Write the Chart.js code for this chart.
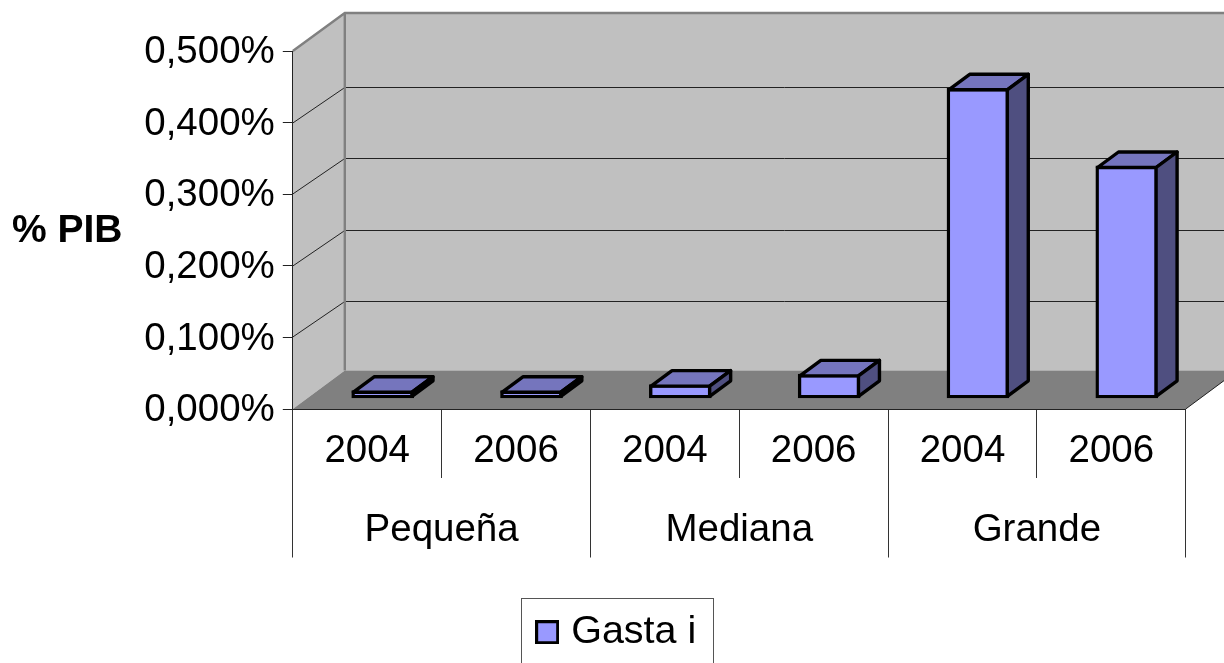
<!DOCTYPE html>
<html>
<head>
<meta charset="utf-8">
<style>html,body{margin:0;padding:0;background:#fff;overflow:hidden}canvas{display:block}</style>
<script src="https://cdn.jsdelivr.net/npm/chart.js@4/dist/chart.umd.min.js"></script>
</head>
<body>
<canvas id="c" width="1224" height="663"></canvas>
<script>
const years = ['2004','2006','2004','2006','2004','2006'];
const groups = ['Pequeña','Mediana','Grande'];
const values = [0.0112,0.0112,0.0196,0.034,0.4335,0.325];
const seriesName = 'Gasta i';
const axisTitle = '% PIB';

const FONT = '"Liberation Sans", Arial, sans-serif';
const WALL = {dx:52, topDy:38, gridDy:36.2, floorDy:38.5};
const BAR = {sx:15.5, sy:-10.5, dx:21, dy:15.5, lw:3.4};

// legend swatch: filled square with a heavy black border
const swatch = document.createElement('canvas');
swatch.width = 24; swatch.height = 24;
(function(){
  const g = swatch.getContext('2d');
  g.fillStyle = '#000'; g.fillRect(0,0,24,24);
  g.fillStyle = '#9999ff'; g.fillRect(3,3,18,18);
})();

const scene = {
  id:'scene',
  beforeDraw(chart){
    const {ctx, chartArea:a, scales:{y}} = chart;
    ctx.save();
    const W = chart.width + 60;
    const bx = a.left + WALL.dx, by = a.top - WALL.topDy, fy = a.bottom - WALL.floorDy;
    ctx.fillStyle = '#c0c0c0';
    ctx.fillRect(bx, by, W, fy - by);
    ctx.beginPath();
    ctx.moveTo(a.left, a.top); ctx.lineTo(bx, by); ctx.lineTo(bx, fy); ctx.lineTo(a.left, a.bottom); ctx.closePath(); ctx.fill();
    ctx.fillStyle = '#808080';
    ctx.beginPath();
    ctx.moveTo(a.left, a.bottom); ctx.lineTo(bx, fy); ctx.lineTo(a.right + WALL.dx, fy); ctx.lineTo(a.right, a.bottom); ctx.closePath(); ctx.fill();
    ctx.strokeStyle = '#222'; ctx.lineWidth = 1;
    y.ticks.forEach(t => {
      if (t.value <= 0 || t.value >= 0.5) return;
      const p = Math.round(y.getPixelForValue(t.value));
      const q = Math.round(p - WALL.gridDy) + 0.5;
      ctx.beginPath(); ctx.moveTo(a.left, p); ctx.lineTo(bx, q); ctx.lineTo(chart.width, q); ctx.stroke();
    });
    ctx.strokeStyle = '#808080'; ctx.lineWidth = 2.4;
    ctx.beginPath(); ctx.moveTo(a.left, a.top); ctx.lineTo(bx, by); ctx.lineTo(chart.width, by); ctx.moveTo(bx, by); ctx.lineTo(bx, fy); ctx.stroke();
    ctx.strokeStyle = '#222'; ctx.lineWidth = 1;
    ctx.beginPath(); ctx.moveTo(a.right, a.bottom); ctx.lineTo(a.right + WALL.dx, fy); ctx.stroke();
    ctx.restore();
  },
  beforeDatasetsDraw(chart){
    chart.ctx.save();
    chart.ctx.translate(BAR.sx, BAR.sy);
  },
  afterDatasetsDraw(chart){
    const ctx = chart.ctx;
    ctx.lineWidth = BAR.lw; ctx.strokeStyle = '#000'; ctx.lineJoin = 'round';
    const h = BAR.lw/2;
    chart.getDatasetMeta(0).data.forEach(el => {
      const L = el.x - el.width/2 + h, R = el.x + el.width/2 - h, T = el.y + h, B = el.base - h;
      ctx.fillStyle = '#7575bd';
      ctx.beginPath();
      ctx.moveTo(L,T); ctx.lineTo(L+BAR.dx,T-BAR.dy); ctx.lineTo(R+BAR.dx,T-BAR.dy); ctx.lineTo(R,T); ctx.closePath();
      ctx.fill(); ctx.stroke();
      ctx.fillStyle = '#4f4f80';
      ctx.beginPath();
      ctx.moveTo(R,T); ctx.lineTo(R+BAR.dx,T-BAR.dy); ctx.lineTo(R+BAR.dx,B-BAR.dy); ctx.lineTo(R,B); ctx.closePath();
      ctx.fill(); ctx.stroke();
    });
    ctx.restore();
  },
  afterLayout(chart){
    const l = chart.legend;
    l.left += 26.75; l.right += 26.75;
    l.top -= 1; l.bottom -= 1;
  },
  afterDraw(chart){
    const ctx = chart.ctx;
    ctx.save();
    ctx.fillStyle = '#000';
    ctx.font = 'bold 39px ' + FONT;
    ctx.textBaseline = 'alphabetic'; ctx.textAlign = 'left';
    ctx.fillText(axisTitle, 12, 242);
    ctx.strokeStyle = '#555'; ctx.lineWidth = 1;
    ctx.strokeRect(521.5, 598.5, 192, 80);
    ctx.restore();
  }
};

new Chart(document.getElementById('c'), {
  type:'bar',
  data:{
    labels:years,
    datasets:[{
      label:seriesName,
      data:values,
      xAxisID:'x', yAxisID:'y',
      backgroundColor:'#9999ff',
      borderColor:'#000',
      borderWidth:3.4,
      borderSkipped:false,
      barThickness:62,
      clip:false
    }]
  },
  plugins:[scene],
  options:{
    responsive:false,
    animation:false,
    devicePixelRatio:1,
    layout:{padding:{top:51,right:38.3,left:0,bottom:0}},
    plugins:{
      tooltip:{enabled:false},
      title:{display:false},
      legend:{
        display:true,
        position:'bottom',
        labels:{
          usePointStyle:true,
          pointStyle:swatch,
          pointStyleWidth:8.5,
          boxHeight:21,
          padding:12,
          color:'#000',
          font:{family:FONT,size:39.5}
        }
      }
    },
    scales:{
      y:{
        min:0,max:0.5,
        afterFit(s){ s.width = 292.8; s.paddingTop = 0; s.paddingBottom = 0; },
        ticks:{
          stepSize:0.1,
          padding:8,
          labelOffset:1.5,
          color:'#000',
          font:{family:FONT,size:38.5},
          callback:v => v.toFixed(3).replace('.',',') + '%'
        },
        grid:{drawOnChartArea:false,drawTicks:true,tickLength:10,color:'#222',lineWidth:1},
        border:{display:true,color:'#222',width:1}
      },
      x:{
        offset:true,
        afterFit(s){ s.height = 68.5; s.paddingLeft = 0; s.paddingRight = 0; },
        ticks:{
          padding:19-69,
          autoSkip:false,maxRotation:0,minRotation:0,
          color:'#000',
          font:{family:FONT,size:38.5}
        },
        grid:{offset:true,drawOnChartArea:false,drawTicks:true,tickLength:69,color:'#333',lineWidth:1},
        border:{display:true,color:'#222',width:1}
      },
      x2:{
        type:'category',
        position:'bottom',
        labels:groups,
        offset:true,
        afterFit(s){ s.height = 124; s.paddingLeft = 0; s.paddingRight = 0; },
        ticks:{
          padding:29.5-80,
          autoSkip:false,maxRotation:0,minRotation:0,
          color:'#000',
          font:{family:FONT,size:38.5}
        },
        grid:{offset:true,drawOnChartArea:false,drawTicks:true,tickLength:80,color:'#333',lineWidth:1},
        border:{display:false}
      }
    }
  }
});
</script>
</body>
</html>
